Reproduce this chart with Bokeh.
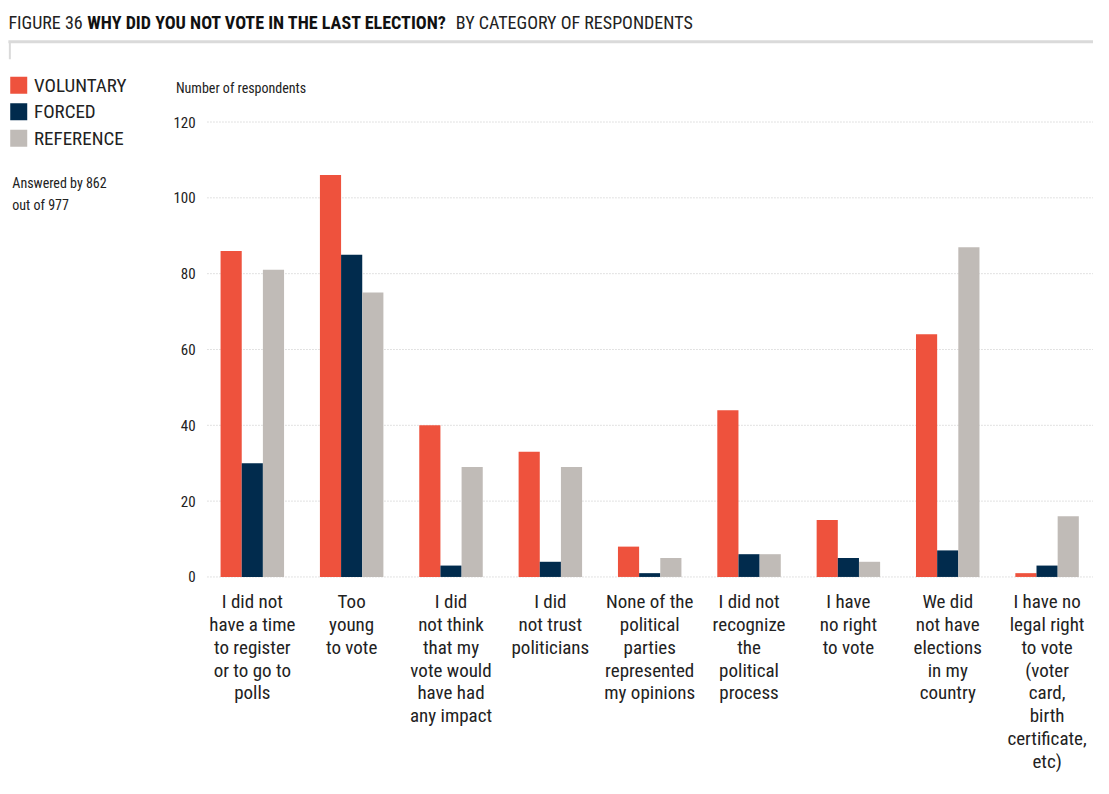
from bokeh.plotting import figure
from bokeh.models import ColumnDataSource, Range1d
from bokeh.core.properties import value
from bokeh.transform import dodge
from bokeh.embed import file_html
from bokeh.resources import INLINE

# ---------------- data ----------------
categories = [
    "I did not\nhave a time\nto register\nor to go to\npolls",
    "Too\nyoung\nto vote",
    "I did\nnot think\nthat my\nvote would\nhave had\nany impact",
    "I did\nnot trust\npoliticians",
    "None of the\npolitical\nparties\nrepresented\nmy opinions",
    "I did not\nrecognize\nthe\npolitical\nprocess",
    "I have\nno right\nto vote",
    "We did\nnot have\nelections\nin my\ncountry",
    "I have no\nlegal right\nto vote\n(voter\ncard,\nbirth\ncertificate,\netc)",
]
voluntary = [86, 106, 40, 33, 8, 44, 15, 64, 1]
forced = [30, 85, 3, 4, 1, 6, 5, 7, 3]
reference = [81, 75, 29, 29, 5, 6, 4, 87, 16]
series_names = ["VOLUNTARY", "FORCED", "REFERENCE"]
series_colors = ["#EE523D", "#012B4D", "#C0BBB7"]
y_ticks = [0, 20, 40, 60, 80, 100, 120]

FONT = "Roboto Condensed"
W, H = 1093, 778
PAGE_W, PAGE_H = 1109, 794

# layout helpers: reference-pixel -> data coordinates
def px(xp):
    return (xp - 255.5) / 100.8

def py(yp):
    return (588.3 - yp) / 3.869

p = figure(width=W, height=H, output_backend="svg", toolbar_location=None,
           x_range=Range1d(px(0), px(PAGE_W)), y_range=Range1d(py(PAGE_H), py(0)),
           min_border=0, outline_line_color=None)
p.axis.visible = False
p.grid.visible = False
p.background_fill_color = "white"
p.border_fill_color = "white"

idx = list(range(len(categories)))
src = ColumnDataSource(dict(idx=idx, v=voluntary, f=forced, r=reference))

bw = 0.213
# dotted grid lines
p.segment(x0=[px(210)] * len(y_ticks), x1=[px(PAGE_W)] * len(y_ticks),
          y0=y_ticks, y1=y_ticks, line_color="#c4c4c4", line_width=1, line_dash="1 2")

for col, off, color in zip(["v", "f", "r"], [-bw, 0, bw], series_colors):
    p.vbar(x=dodge("idx", off), top=col, bottom=0, width=bw, source=src,
           fill_color=color, line_color=None)

TXT = "#222222"
# y tick labels
p.text(x=[px(198)] * len(y_ticks), y=y_ticks, text=[str(t) for t in y_ticks],
       text_align="right", text_baseline="middle", text_font=value(FONT),
       text_font_size=value("15px"), text_color=TXT)

# category labels
p.text(x=idx, y=[py(602)] * len(idx), text=categories, text_align="center",
       text_baseline="top", text_font=value(FONT), text_font_size=value("19px"),
       text_line_height=0.99, text_color=TXT)

# axis title
p.text(x=[px(178)], y=[py(89)], text=["Number of respondents"], text_align="left",
       text_baseline="middle", text_font=value(FONT), text_font_size=value("14px"),
       text_color=TXT)

# note
p.text(x=[px(12)], y=[py(178)], text=["Answered by 862\nout of 977"], text_align="left",
       text_baseline="top", text_font=value(FONT), text_font_size=value("14px"),
       text_line_height=1.4, text_color=TXT)

# legend
ly = [py(86.5), py(113.5), py(140.5)]
p.rect(x=[px(18.5)] * 3, y=ly, width=17, height=17, width_units="screen",
       height_units="screen", fill_color=series_colors, line_color=None)
p.text(x=[px(34)] * 3, y=ly, text=series_names, text_align="left",
       text_baseline="middle", text_font=value(FONT), text_font_size=value("19px"),
       text_color=TXT)

# title
p.text(x=[px(8)], y=[py(22)], text=["FIGURE 36"], text_align="left",
       text_baseline="middle", text_font=value(FONT), text_font_size=value("18px"),
       text_color=TXT)
p.text(x=[px(88)], y=[py(22)], text=["WHY DID YOU NOT VOTE IN THE LAST ELECTION?"],
       text_align="left", text_baseline="middle", text_font=value(FONT),
       text_font_size=value("18.1px"), text_font_style="bold", text_color="#111111")
p.text(x=[px(462)], y=[py(22)], text=["BY CATEGORY OF RESPONDENTS"], text_align="left",
       text_baseline="middle", text_font=value(FONT), text_font_size=value("18px"),
       text_color=TXT)

# title rule
p.segment(x0=[px(8)], x1=[px(PAGE_W)], y0=[py(42)], y1=[py(42)], line_color="#dadada",
          line_width=3)
p.segment(x0=[px(9.5)], x1=[px(9.5)], y0=[py(42)], y1=[py(60)], line_color="#dadada",
          line_width=2)

open("out.html", "w").write(file_html(p, INLINE))
